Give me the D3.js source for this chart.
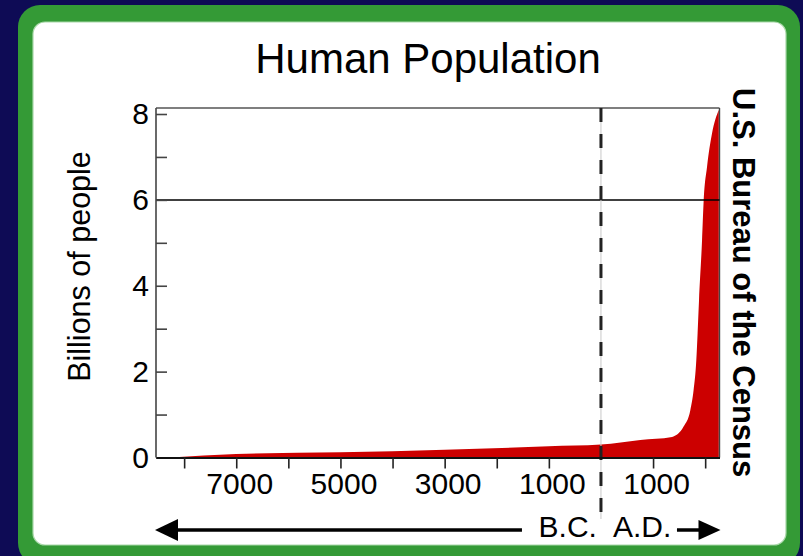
<!DOCTYPE html>
<html>
<head>
<meta charset="utf-8">
<script src="https://cdn.jsdelivr.net/npm/d3@7"></script>
<style>
  html, body { margin: 0; padding: 0; background: #0e0b55; }
  svg { display: block; }
  text { font-family: "Liberation Sans", Arial, Helvetica, sans-serif; fill: #000; }
</style>
</head>
<body>
<svg id="chart" width="803" height="556"></svg>
<script>
// ---------- data ----------
const title = "Human Population";
const yTitle = "Billions of people";
const sourceTitle = "U.S. Bureau of the Census";
const years = [-8250, -7000, -5000, -3000, -1000, 0, 755, 1364, 1586, 1715, 1778, 1830, 1855, 1882, 1940, 1970, 2036, 2132, 2262];
const population = [0, 0.08, 0.12, 0.18, 0.26, 0.3, 0.41, 0.48, 0.72, 1.1, 1.57, 2.27, 2.9, 3.66, 5.06, 5.95, 6.77, 7.55, 8.1];
const xTicks = [-8000, -7000, -6000, -5000, -4000, -3000, -2000, -1000, 1000, 2000];
const xTickLabels = ["", "7000", "", "5000", "", "3000", "", "1000", "1000", ""];
const yTicks = [0, 1, 2, 3, 4, 5, 6, 7, 8];
const yTickLabels = ["0", "", "2", "", "4", "", "6", "", "8"];
const referenceLine = [6];
const eraLabels = ["B.C.", "A.D."];
const xDomain = [-8540, 2275];
const yDomain = [0, 8];

// ---------- layout ----------
const W = 803, H = 556;
const plot = { left: 156, right: 719.5, top: 108, bottom: 457.5 };
const svg = d3.select("#chart");

// background
svg.append("rect").attr("width", W).attr("height", H).attr("fill", "#0e0b55");
// green frame
svg.append("rect").attr("x", 18).attr("y", 5).attr("width", 782).attr("height", 560)
  .attr("rx", 22).attr("fill", "#349a36");
svg.append("rect").attr("x", 33).attr("y", 22).attr("width", 753).attr("height", 523)
  .attr("rx", 12).attr("fill", "#ffffff").attr("stroke", "#a8d8a8").attr("stroke-width", 1.2);

const x = d3.scaleLinear().domain(xDomain).range([plot.left, plot.right]);
const y = d3.scaleLinear().domain(yDomain).range([plot.bottom, 114]);

// area
const data = years.map((yr, i) => ({ yr, v: population[i] }));
const area = d3.area()
  .x(d => x(d.yr))
  .y0(y(0))
  .y1(d => y(d.v))
  .curve(d3.curveMonotoneX);
svg.append("path").datum(data).attr("d", area).attr("fill", "#cc0000");

// box top & right
svg.append("line").attr("x1", plot.left).attr("x2", plot.right).attr("y1", plot.top).attr("y2", plot.top)
  .attr("stroke", "#555").attr("stroke-width", 1.6);
svg.append("line").attr("x1", plot.right).attr("x2", plot.right).attr("y1", plot.top).attr("y2", plot.bottom)
  .attr("stroke", "#444").attr("stroke-width", 1.4);

// reference line at 6
svg.selectAll("line.ref").data(referenceLine).enter().append("line").attr("class", "ref")
  .attr("x1", plot.left).attr("x2", plot.right)
  .attr("y1", d => y(d)).attr("y2", d => y(d))
  .attr("stroke", "#000").attr("stroke-width", 1.5);

// era divider (year 0)
const x0 = x(0);
svg.append("line").attr("x1", x0).attr("x2", x0).attr("y1", plot.top).attr("y2", 519)
  .attr("stroke", "#c8c8c8").attr("stroke-width", 1);
svg.append("line").attr("x1", x0).attr("x2", x0).attr("y1", plot.top).attr("y2", 519)
  .attr("stroke", "#222").attr("stroke-width", 3).attr("stroke-dasharray", "14,12");

// y axis
const yAxis = d3.axisLeft(y).tickValues(yTicks)
  .tickFormat((d, i) => yTickLabels[i])
  .tickSizeInner(-11).tickSizeOuter(0).tickPadding(7);
const gy = svg.append("g").attr("transform", `translate(${plot.left},0)`).call(yAxis);
gy.select(".domain").attr("stroke", "#444").attr("stroke-width", 1.6)
  .attr("d", `M0,${plot.top}V${plot.bottom}`);
gy.selectAll(".tick line").attr("stroke", "#444").attr("stroke-width", 1.6);
gy.selectAll(".tick text").attr("font-size", 30).attr("font-family", "Liberation Sans, Arial, sans-serif")
  .attr("fill", "#000");

// x axis
const xAxis = d3.axisBottom(x).tickValues(xTicks)
  .tickFormat((d, i) => xTickLabels[i])
  .tickSizeInner(11).tickSizeOuter(0).tickPadding(4);
const gx = svg.append("g").attr("transform", `translate(0,${plot.bottom})`).call(xAxis);
gx.select(".domain").attr("stroke", "#111").attr("stroke-width", 1.8);
gx.selectAll(".tick line").attr("stroke", "#222").attr("stroke-width", 1.6);
gx.selectAll(".tick text").attr("font-size", 30).attr("font-family", "Liberation Sans, Arial, sans-serif")
  .attr("fill", "#000").attr("dx", 3);

// title
svg.append("text").attr("x", 428).attr("y", 72.5).attr("text-anchor", "middle")
  .attr("font-size", 42).text(title);

// y title
svg.append("text").attr("transform", "translate(90,266.5) rotate(-90)")
  .attr("text-anchor", "middle").attr("font-size", 30.5).text(yTitle);

// source (right, rotated)
svg.append("text").attr("transform", "translate(733,88) rotate(90)")
  .attr("text-anchor", "start").attr("font-size", 31).attr("font-weight", "bold").text(sourceTitle);

// era arrows
const arrowY = 530;
svg.append("line").attr("x1", x(xDomain[0]) + 20).attr("x2", x0 - 79).attr("y1", arrowY).attr("y2", arrowY)
  .attr("stroke", "#000").attr("stroke-width", 3.5);
svg.append("path")
  .attr("d", `M${x(xDomain[0]) - 1},${arrowY}L${x(xDomain[0]) + 22},${arrowY - 11}L${x(xDomain[0]) + 22},${arrowY + 11}Z`)
  .attr("fill", "#000");
svg.append("text").attr("x", x0 - 4).attr("y", 537).attr("text-anchor", "end")
  .attr("font-size", 30).text(eraLabels[0]);
svg.append("text").attr("x", x0 + 12).attr("y", 537).attr("text-anchor", "start")
  .attr("font-size", 30).text(eraLabels[1]);
svg.append("line").attr("x1", x0 + 76).attr("x2", x(xDomain[1]) - 18).attr("y1", arrowY).attr("y2", arrowY)
  .attr("stroke", "#000").attr("stroke-width", 3.5);
svg.append("path")
  .attr("d", `M${x(xDomain[1]) + 1},${arrowY}L${x(xDomain[1]) - 21},${arrowY - 10}L${x(xDomain[1]) - 21},${arrowY + 10}Z`)
  .attr("fill", "#000");
</script>
</body>
</html>
